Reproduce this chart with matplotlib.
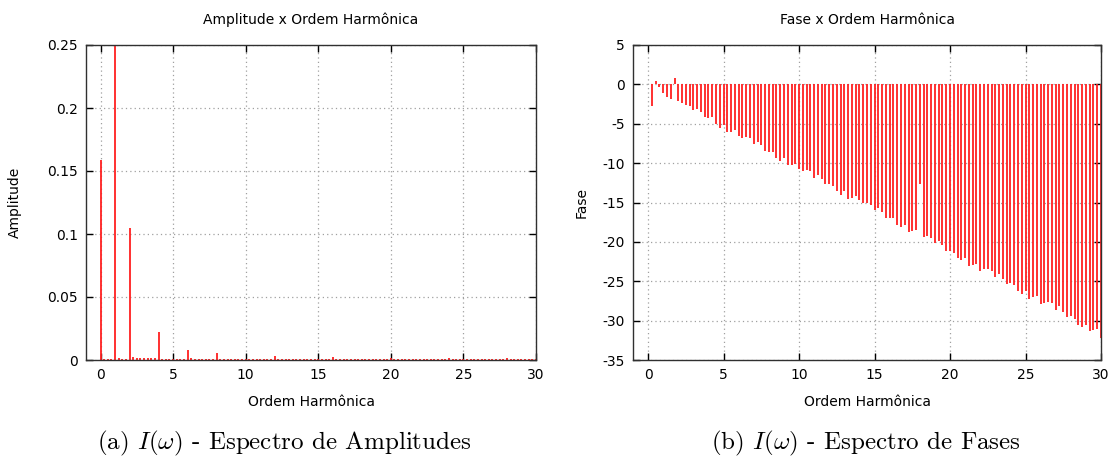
import numpy as np
import matplotlib
matplotlib.use("Agg")
import matplotlib.pyplot as plt

plt.rcParams['font.family'] = ['DejaVu Sans']
plt.rcParams['axes.unicode_minus'] = False
plt.rcParams['mathtext.fontset'] = 'cm'

# amplitude spectrum, sampled every 0.25 of the harmonic order (0 .. 30)
amp_step = 0.25
amplitude = [
    0.159, 0.0004, 0.0008, 0.0008, 0.32, 0.0016, 0.0008, 0.0004,
    0.105, 0.0024, 0.0016, 0.0016, 0.0016, 0.0016, 0.0016, 0.0016,
    0.0222, 0.0005, 0.0005, 0.0005, 0.0005, 0.0006, 0.0005, 0.0005,
    0.0079, 0.0016, 0.0006, 0.0006, 0.0006, 0.0006, 0.0006, 0.0006,
    0.0058, 0.0006, 0.0006, 0.0006, 0.0006, 0.0006, 0.0006, 0.0006,
    0.0006, 0.0006, 0.0006, 0.0006, 0.0006, 0.0006, 0.0006, 0.0006,
    0.0032, 0.0005, 0.0005, 0.0005, 0.0005, 0.0005, 0.0005, 0.0005,
    0.0005, 0.0005, 0.0005, 0.0005, 0.0005, 0.0005, 0.0005, 0.0005,
    0.0021, 0.0004, 0.0004, 0.0004, 0.0004, 0.0004, 0.0004, 0.0004,
    0.0004, 0.0004, 0.0004, 0.0004, 0.0004, 0.0004, 0.0004, 0.0004,
    0.0015, 0.0004, 0.0004, 0.0004, 0.0004, 0.0004, 0.0004, 0.0004,
    0.0004, 0.0004, 0.0004, 0.0004, 0.0004, 0.0004, 0.0004, 0.0004,
    0.0013, 0.0004, 0.0004, 0.0004, 0.0004, 0.0004, 0.0004, 0.0004,
    0.0004, 0.0004, 0.0004, 0.0004, 0.0004, 0.0004, 0.0004, 0.0004,
    0.0013, 0.0004, 0.0004, 0.0004, 0.0004, 0.0004, 0.0004, 0.0004,
    0.0004,
]

# phase spectrum, 0.25 .. 30 in steps of 0.25
fase = [
    -2.7, 0.4, -0.35, -1.1, -1.6, -1.9, 0.85, -2.1,
    -2.4, -2.6, -2.7, -3.3, -3.1, -3.5, -4.15, -4.3,
    -4.2, -5.0, -5.5, -5.1, -6.05, -6.1, -5.75, -6.5,
    -6.8, -6.65, -6.8, -7.6, -7.3, -7.75, -8.4, -8.55,
    -8.55, -9.3, -9.75, -9.4, -10.25, -10.3, -10.05, -10.7,
    -11.0, -10.9, -11.0, -11.85, -11.5, -12.05, -12.6, -12.7,
    -12.85, -13.6, -14.0, -13.6, -14.5, -14.4, -14.2, -14.7,
    -15.0, -15.0, -15.3, -16.0, -15.7, -16.2, -16.95, -16.95,
    -17.0, -17.8, -18.1, -17.8, -18.75, -18.6, -18.55, -12.6,
    -19.35, -19.2, -19.5, -20.2, -19.9, -20.4, -21.1, -21.1,
    -21.35, -22.0, -22.3, -22.0, -23.0, -22.9, -22.8, -23.7,
    -23.5, -23.4, -23.7, -24.4, -24.1, -24.75, -25.3, -25.2,
    -25.5, -26.2, -26.6, -26.2, -27.2, -27.0, -26.9, -27.9,
    -27.7, -27.6, -27.8, -28.6, -28.2, -28.9, -29.5, -29.4,
    -29.8, -30.5, -30.8, -30.5, -31.3, -31.2, -31.1, -32.2,
]

x_amp = np.arange(len(amplitude)) * amp_step
x_fase = (np.arange(len(fase)) + 1) * 0.25

amp_ticks = [0, 0.05, 0.1, 0.15, 0.2, 0.25]
amp_ticklabels = ['0', '0.05', '0.1', '0.15', '0.2', '0.25']
fase_ticks = [5, 0, -5, -10, -15, -20, -25, -30, -35]
x_ticks = [0, 5, 10, 15, 20, 25, 30]


def style(ax):
    ax.set_xlim(-1, 30)
    ax.set_xticks(x_ticks)
    ax.grid(True, color='#a0a0a0', linestyle=(0, (1, 2.5)), linewidth=0.9)
    ax.set_axisbelow(True)
    ax.tick_params(direction='in', length=5, width=1, top=True, right=True,
                   labelsize=10, pad=6, colors='black')
    for s in ax.spines.values():
        s.set_color('#303030')
        s.set_linewidth(1.0)


fig = plt.figure(figsize=(11.1, 4.59), dpi=100)

ax1 = fig.add_axes([86/1110, 99/459, 450/1110, 315/459])
ax1.vlines(x_amp, 0, amplitude, color='#ff2020', linewidth=1.3)
style(ax1)
ax1.set_ylim(0, 0.25)
ax1.set_yticks(amp_ticks)
ax1.set_yticklabels(amp_ticklabels)
ax1.set_title('Amplitude x Ordem Harmônica', fontsize=10, pad=15)
ax1.set_xlabel('Ordem Harmônica', fontsize=10, labelpad=9)
ax1.set_ylabel('Amplitude', fontsize=10, labelpad=18)

ax2 = fig.add_axes([633/1110, 99/459, 468/1110, 315/459])
ax2.vlines(x_fase, 0, fase, color='#ff2020', linewidth=1.3)
style(ax2)
ax2.set_ylim(-35, 5)
ax2.set_yticks(fase_ticks)
ax2.set_title('Fase x Ordem Harmônica', fontsize=10, pad=15)
ax2.set_xlabel('Ordem Harmônica', fontsize=10, labelpad=9)
ax2.set_ylabel('Fase', fontsize=10, labelpad=10)

fig.text(284/1110, 1 - 443/459, r'(a) $I(\omega)$ - Espectro de Amplitudes',
         family='cmr10', fontsize=18, ha='center', va='center')
fig.text(866/1110, 1 - 443/459, r'(b) $I(\omega)$ - Espectro de Fases',
         family='cmr10', fontsize=18, ha='center', va='center')

fig.savefig('out.png', dpi=100)
